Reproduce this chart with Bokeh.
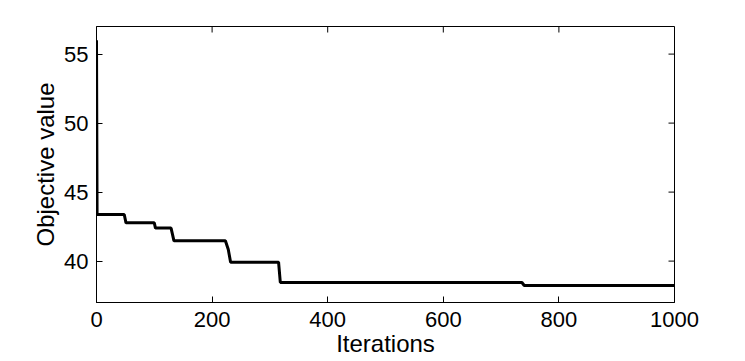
import math
from bokeh.plotting import figure
from bokeh.models import Range1d, FixedTicker
from bokeh.embed import file_html
from bokeh.resources import INLINE

# Data
iterations = [0, 1, 48, 51, 100, 102, 129, 134, 223, 228, 232, 315, 318, 736, 740, 1000]
objective = [56.0, 43.38, 43.38, 42.77, 42.77, 42.39, 42.39, 41.47, 41.47, 40.84, 39.92,
             39.92, 38.45, 38.45, 38.23, 38.23]
x_ticks = [0, 200, 400, 600, 800, 1000]
y_ticks = [40, 45, 50, 55]
x_lim = (0, 1000)
y_lim = (37, 57)

FONT = "Liberation Sans"

p = figure(output_backend="svg", toolbar_location=None,
           frame_width=578, frame_height=276,
           min_border_left=96, min_border_top=26, min_border_right=40, min_border_bottom=0,
           x_range=Range1d(*x_lim), y_range=Range1d(*y_lim))

p.line(iterations, objective, line_color="black", line_width=3)

# inward ticks on the top and right edges (MATLAB box style)
p.ray(x=x_ticks, y=[y_lim[1]] * len(x_ticks), length=6, length_units="screen",
      angle=-math.pi / 2, line_color="black", line_width=1)
p.ray(x=[x_lim[1]] * len(y_ticks), y=y_ticks, length=6, length_units="screen",
      angle=math.pi, line_color="black", line_width=1)

p.xgrid.visible = False
p.ygrid.visible = False
p.outline_line_color = "black"
p.outline_line_width = 1
p.background_fill_color = "white"
p.border_fill_color = "white"

for ax, ticks in ((p.xaxis[0], x_ticks), (p.yaxis[0], y_ticks)):
    ax.ticker = FixedTicker(ticks=ticks)
    ax.minor_tick_line_color = None
    ax.major_tick_in = 6
    ax.major_tick_out = 0
    ax.major_tick_line_color = "black"
    ax.axis_line_color = "black"
    ax.major_label_text_font = FONT
    ax.major_label_text_color = "black"
    ax.major_label_text_font_size = "22px"
    ax.axis_label_text_font = FONT
    ax.axis_label_text_font_style = "normal"
    ax.axis_label_text_color = "black"
    ax.axis_label_text_font_size = "24px"

p.xaxis[0].axis_label = "Iterations"
p.yaxis[0].axis_label = "Objective value"
p.xaxis[0].major_label_standoff = 9
p.xaxis[0].axis_label_standoff = 0
p.yaxis[0].major_label_standoff = 8
p.yaxis[0].axis_label_standoff = 2

open("out.html", "w").write(file_html(p, INLINE))
